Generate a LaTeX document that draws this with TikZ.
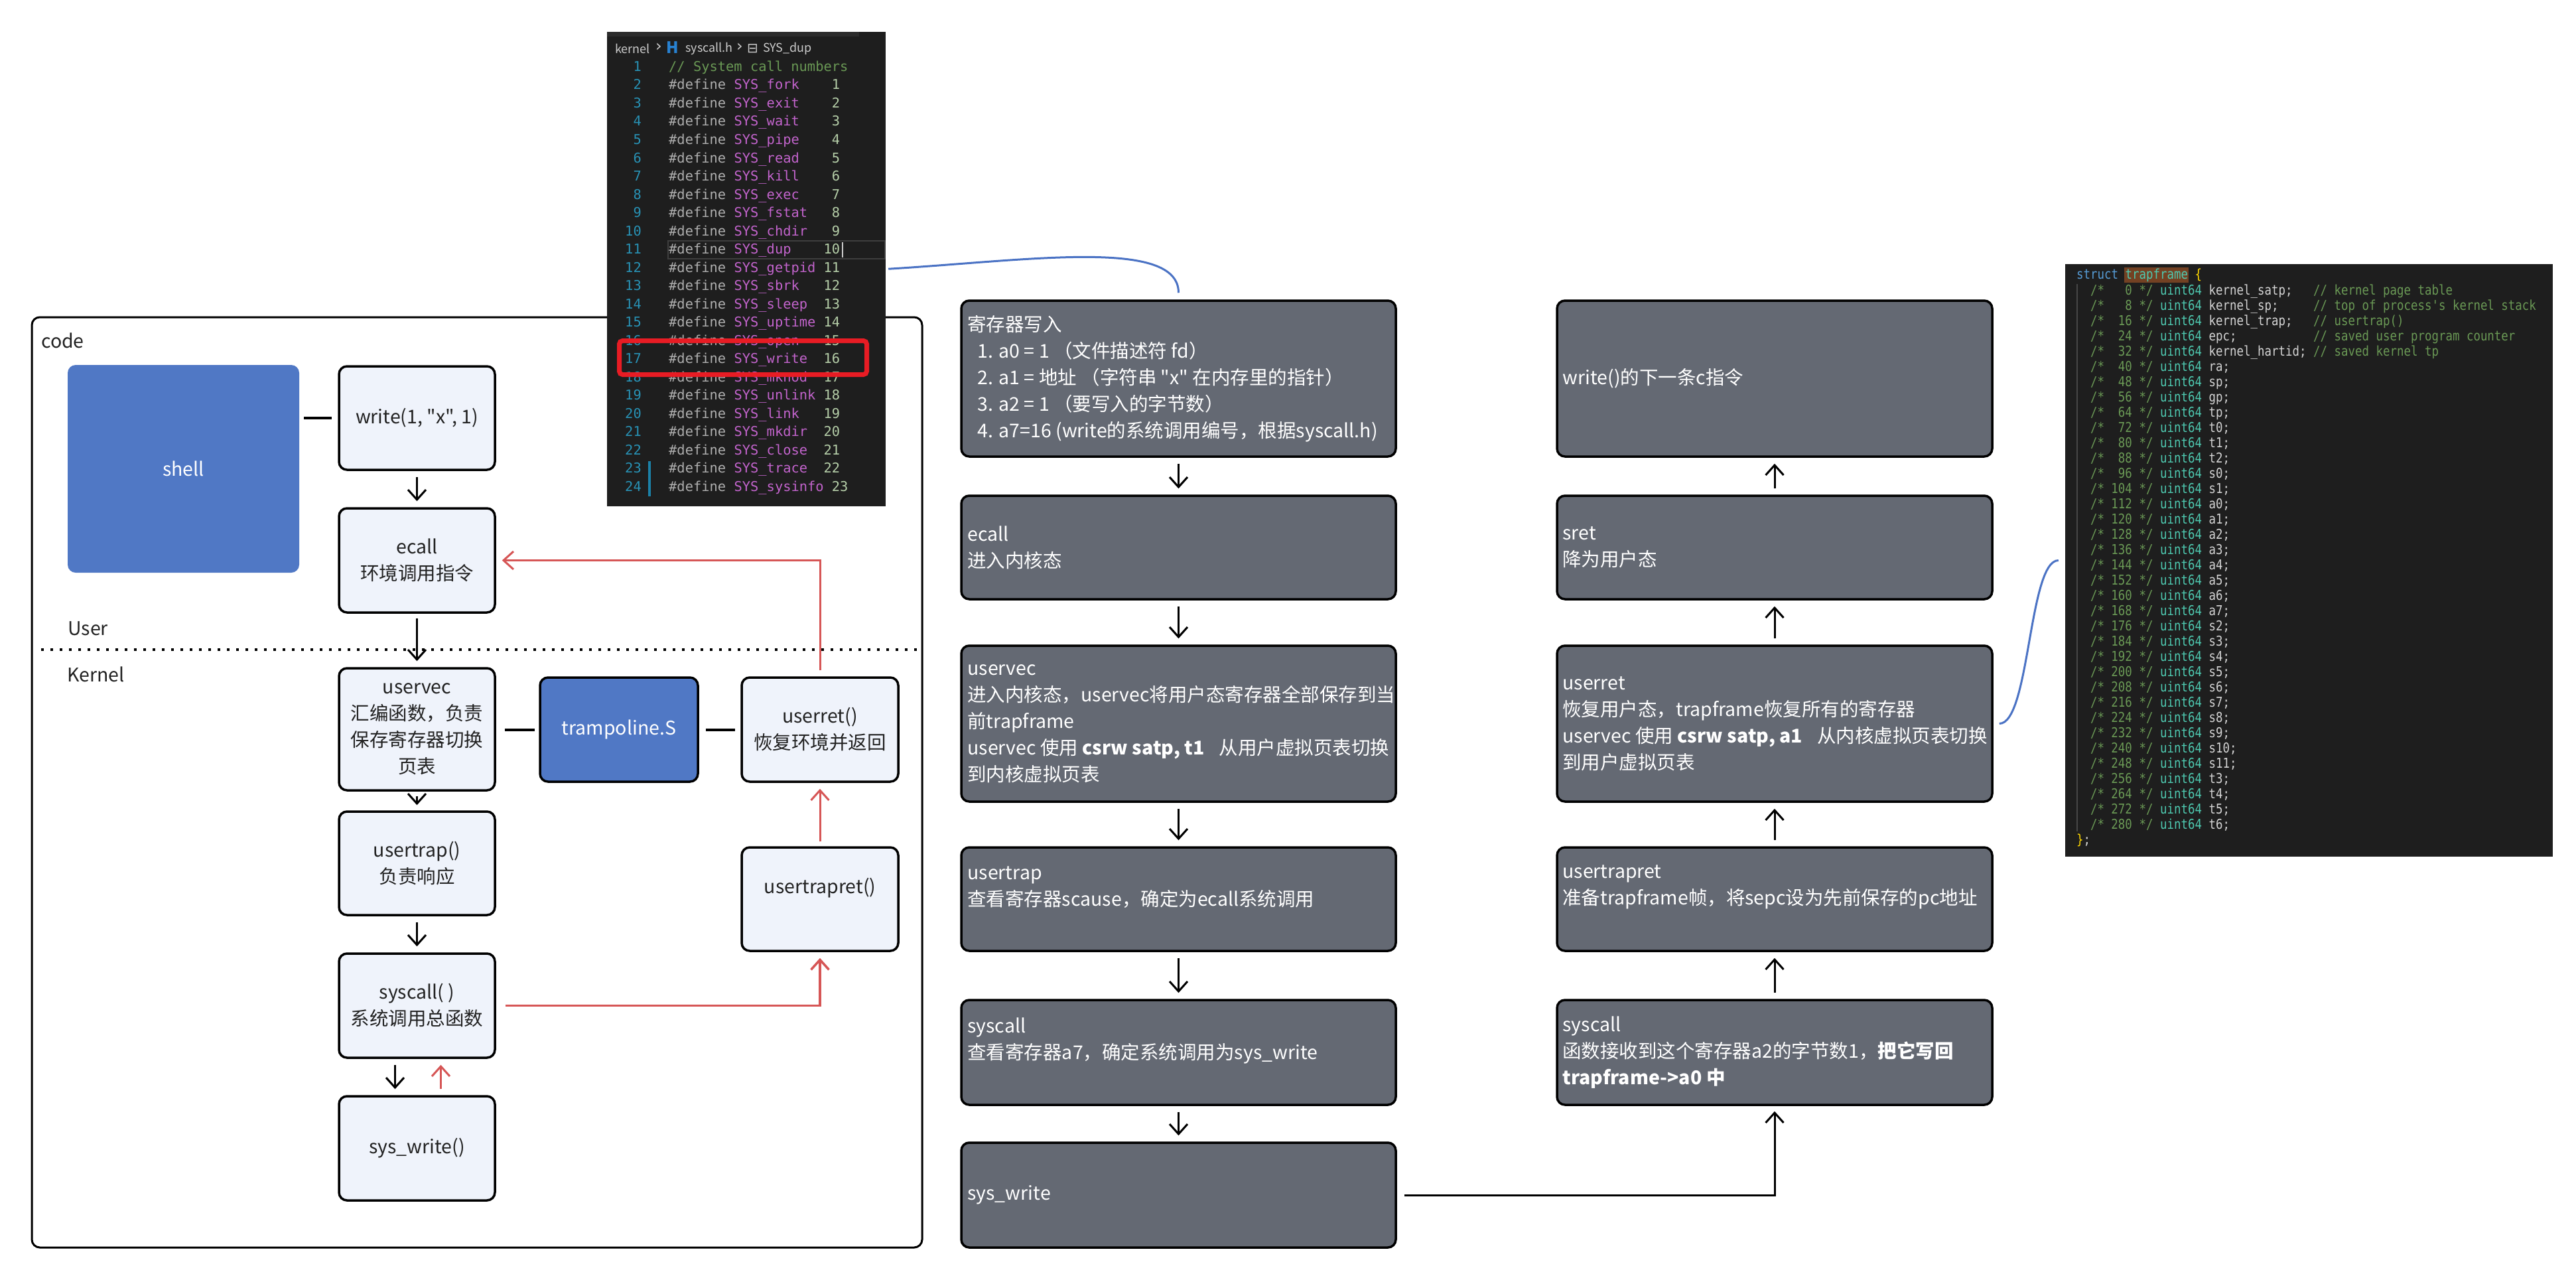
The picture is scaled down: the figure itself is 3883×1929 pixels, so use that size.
\documentclass[tikz,border=0pt]{standalone}
\usepackage{fontspec}
\setmainfont{Noto Sans CJK SC}[Ligatures=TeXOff]
\newfontfamily\codefont[Ligatures=TeXOff]{DejaVu Sans Mono}
\newfontfamily\tfcodefont[Ligatures=TeXOff,FakeStretch=0.85]{DejaVu Sans Mono}
\newfontfamily\symfont{DejaVu Sans}
\usetikzlibrary{arrows.meta}

\definecolor{darkbox}{RGB}{100,105,115}
\definecolor{lightbox}{RGB}{239,243,251}
\definecolor{bluebox}{RGB}{80,120,197}
\definecolor{redline}{RGB}{214,86,86}
\definecolor{linkblue}{RGB}{74,114,196}
\definecolor{txtdark}{RGB}{34,34,34}
\definecolor{codebg}{RGB}{30,30,30}
\definecolor{tabbar}{RGB}{44,44,44}
\definecolor{lnum}{RGB}{40,145,180}
\definecolor{ccomment}{RGB}{106,153,85}
\definecolor{cdefine}{RGB}{175,175,175}
\definecolor{cmacro}{RGB}{195,100,205}
\definecolor{cnum}{RGB}{181,206,168}
\definecolor{ctype}{RGB}{78,201,176}
\definecolor{ckw}{RGB}{86,156,214}
\definecolor{cplain}{RGB}{212,212,212}
\definecolor{cbrace}{RGB}{255,215,0}
\definecolor{hlbrown}{RGB}{115,65,35}
\definecolor{redbox}{RGB}{232,28,36}
\definecolor{crumb}{RGB}{204,204,204}
\definecolor{hfile}{RGB}{40,130,210}
\definecolor{gitbar}{RGB}{27,129,168}

\tikzset{
  boxfont/.style={font=\fontsize{28.5}{40}\selectfont},
  lbox/.style={draw=black, line width=3.5pt, fill=lightbox, rounded corners=12pt,
    inner sep=0pt, text=txtdark, align=center, boxfont},
  bbox/.style={draw=black, line width=3.5pt, fill=bluebox, rounded corners=12pt,
    inner sep=0pt, text=white, align=center, boxfont},
  dbox/.style={draw=black, line width=3.5pt, fill=darkbox, rounded corners=12pt, inner sep=0pt},
  dtext/.style={text=white, align=left, anchor=west, inner sep=0pt, boxfont},
  lbl/.style={text=txtdark, anchor=west, inner sep=0pt, boxfont},
  arr/.style={line width=3pt, -{Straight Barb[length=15pt,width=27pt]},
    shorten <=9pt, shorten >=9pt},
  rarr/.style={arr, draw=redline},
  link/.style={line width=4pt, draw=black},
  ctok/.style={inner sep=0pt, anchor=west, text height=15pt, text depth=0pt,
    font=\codefont\fontsize{20.4}{24}\selectfont},
  ttok/.style={inner sep=0pt, anchor=west, text height=15pt, text depth=0pt,
    font=\tfcodefont\fontsize{20.5}{24}\selectfont},
  crumbtxt/.style={inner sep=0pt, anchor=west, text=crumb, font=\fontsize{18}{22}\selectfont},
  curve/.style={draw=linkblue, line width=3pt}
}

\begin{document}
\begin{tikzpicture}[x=1pt,y=-1pt]
\useasboundingbox (0,0) rectangle (3883,1929);
\fill[white] (0,0) rectangle (3883,1929);

% ================= left panel =================
\draw[line width=3pt, rounded corners=12pt] (48,478) rectangle (1390,1880);
\node[lbl] (codelbl) at (62,513) {code};
\node[lbl] (userlbl) at (102,947) {User};
\node[lbl] (kernlbl) at (101,1016) {Kernel};
\draw[line width=4pt, dash pattern=on 4pt off 10pt] (62,979) -- (1390,979);

\node[fill=bluebox, rounded corners=12pt, minimum width=349pt, minimum height=313pt,
  text=white, boxfont] (shell) at (276.5,706.5) {shell};
\node[lbox, minimum width=235pt, minimum height=156pt] (write) at (628.5,630) {write(1, "x", 1)};
\node[lbox, minimum width=235pt, minimum height=157pt] (ecall) at (628.5,844.5) {ecall\\环境调用指令};
\node[lbox, minimum width=235pt, minimum height=184pt] (uservec) at (628.5,1099) {uservec\\汇编函数，负责\\保存寄存器切换\\页表};
\node[bbox, minimum width=238pt, minimum height=157pt] (tramp) at (933,1099.5) {trampoline.S};
\node[lbox, minimum width=236pt, minimum height=157pt] (userret) at (1236,1099.5) {userret()\\恢复环境并返回};
\node[lbox, minimum width=235pt, minimum height=156pt] (usertrap) at (628.5,1301) {usertrap()\\负责响应};
\node[lbox, minimum width=236pt, minimum height=156pt] (usertrapret) at (1236,1355) {usertrapret()\\\mbox{}};
\node[lbox, minimum width=235pt, minimum height=157pt] (syscallL) at (628.5,1515.5) {syscall( )\\系统调用总函数};
\node[lbox, minimum width=235pt, minimum height=157pt] (syswriteL) at (628.5,1730.5) {sys\_write()};

\draw[link, shorten <=7pt, shorten >=9pt] (shell.east |- write.west) -- (write.west);
\draw[link, shorten <=13pt, shorten >=6pt] (uservec.east |- tramp.west) -- (tramp.west);
\draw[link, shorten <=10pt, shorten >=8pt] (tramp.east) -- (userret.west);

\draw[arr] (write) -- (ecall);
\draw[arr, shorten <=7pt] (ecall) -- (uservec);
\draw[arr, shorten <=7pt, shorten >=8pt] (uservec) -- (usertrap);
\draw[arr] (usertrap) -- (syscallL);
\draw[arr] ([xshift=-33pt]syscallL.south) -- ([xshift=-33pt]syswriteL.north);
\draw[rarr] ([xshift=36pt]syswriteL.north) -- ([xshift=36pt]syscallL.south);
\draw[rarr, line width=3.5pt, shorten <=14pt] (syscallL.east) -- (syscallL.east -| usertrapret.south) -- (usertrapret.south);
\draw[rarr, shorten <=7pt] (usertrapret) -- (userret);
\draw[rarr] (userret.north) -- (userret.north |- ecall.east) -- (ecall.east);

% ================= syscall.h screenshot =================
\node[fill=codebg, minimum width=420pt, minimum height=715pt, inner sep=0pt] (codebox) at (1125,405.5) {};
\fill[tabbar] (915,48) rectangle (1295,55);
\node[crumbtxt] (bc1) at (927,73) {kernel};
\node[crumbtxt, font=\symfont\fontsize{24}{26}\selectfont] (bc2) at (988,71) {›};
\node[crumbtxt, text=hfile, font=\bfseries\fontsize{24}{26}\selectfont] (bc3) at (1004,72) {H};
\node[crumbtxt] (bc4) at (1033,73) {syscall.h};
\node[crumbtxt, font=\symfont\fontsize{24}{26}\selectfont] (bc5) at (1110,71) {›};
\node[crumbtxt, font=\symfont\fontsize{20}{22}\selectfont] (bc6) at (1126,73) {⊟};
\node[crumbtxt] (bc7) at (1150,73) {SYS\_dup};

\draw[line width=1.5pt, draw={rgb,255:red,62;green,62;blue,62}] (1007,363) rectangle (1334,390);
\fill[gitbar] (977,695) rectangle (981,748);

\foreach \kk in {1,...,24}{
  \node[ctok, anchor=east, text=lnum] (ln\kk) at (967,{100+(\kk-1)*27.5}) {\kk};
}
\node[ctok, text=ccomment] (cm1) at (1008,100) {// System call numbers};
\foreach \kk/\nm/\vv in {2/fork/1,3/exit/2,4/wait/3,5/pipe/4,6/read/5,7/kill/6,8/exec/7,
  9/fstat/8,10/chdir/9,11/dup/10,12/getpid/11,13/sbrk/12,14/sleep/13,15/uptime/14,
  16/open/15,17/write/16,18/mknod/17,19/unlink/18,20/link/19,21/mkdir/20,22/close/21,
  23/trace/22}{
  \node[ctok, text=cdefine] (df\kk) at (1008,{100+(\kk-1)*27.5}) {\#define};
  \node[ctok, text=cmacro] (sy\kk) at (1106.4,{100+(\kk-1)*27.5}) {SYS\_\nm};
  \node[ctok, anchor=east, text=cnum] (nv\kk) at (1266.3,{100+(\kk-1)*27.5}) {\vv};
}
\node[ctok, text=cdefine] (df24) at (1008,732.5) {\#define};
\node[ctok, text=cmacro] (sy24) at (1106.4,732.5) {SYS\_sysinfo};
\node[ctok, anchor=east, text=cnum] (nv24) at (1278.6,732.5) {23};
\draw[line width=2pt, draw={rgb,255:red,200;green,200;blue,200}] (1270,365) -- (1270,388);
\draw[redbox, line width=7pt, rounded corners=5pt] (933.5,513.5) rectangle (1306.5,564.5);

% ================= middle column =================
\node[dbox, minimum width=655pt, minimum height=235pt] (b1) at (1776.5,570.5) {};
\node[dbox, minimum width=655pt, minimum height=156pt] (b2) at (1776.5,825) {};
\node[dbox, minimum width=655pt, minimum height=235pt] (b3) at (1776.5,1090.5) {};
\node[dbox, minimum width=655pt, minimum height=156pt] (b4) at (1776.5,1355) {};
\node[dbox, minimum width=655pt, minimum height=158pt] (b5) at (1776.5,1586) {};
\node[dbox, minimum width=655pt, minimum height=158pt] (b6) at (1776.5,1801) {};

\node[dtext] (b1t) at ([xshift=11pt]b1.west) {寄存器写入\\
\hspace*{15pt}1. a0 = 1 （文件描述符 fd）\\
\hspace*{15pt}2. a1 = 地址 （字符串 "x" 在内存里的指针）\\
\hspace*{15pt}3. a2 = 1 （要写入的字节数）\\
\hspace*{15pt}4. a7=16 (write的系统调用编号，根据syscall.h)};
\node[dtext] (b2t) at ([xshift=11pt]b2.west) {ecall\\进入内核态};
\node[dtext] (b3t) at ([xshift=11pt]b3.west) {uservec\\
进入内核态，uservec将用户态寄存器全部保存到当\\
前trapframe\\
uservec 使用 {\bfseries csrw satp, t1}\hspace{22pt}从用户虚拟页表切换\\
到内核虚拟页表};
\node[dtext] (b4t) at ([xshift=11pt,yshift=18pt]b4.west) {usertrap\\查看寄存器scause，确定为ecall系统调用};
\node[dtext] (b5t) at ([xshift=11pt,yshift=18pt]b5.west) {syscall\\查看寄存器a7，确定系统调用为sys\_write};
\node[dtext] (b6t) at ([xshift=11pt]b6.west) {sys\_write};

\draw[arr] (b1) -- (b2);
\draw[arr] (b2) -- (b3);
\draw[arr] (b3) -- (b4);
\draw[arr] (b4) -- (b5);
\draw[arr] (b5) -- (b6);

% ================= right column =================
\node[dbox, minimum width=656pt, minimum height=235pt] (r1) at (2675,570.5) {};
\node[dbox, minimum width=656pt, minimum height=156pt] (r2) at (2675,825) {};
\node[dbox, minimum width=656pt, minimum height=235pt] (r3) at (2675,1090.5) {};
\node[dbox, minimum width=656pt, minimum height=156pt] (r4) at (2675,1355) {};
\node[dbox, minimum width=656pt, minimum height=158pt] (r5) at (2675,1586) {};

\node[dtext] (r1t) at ([xshift=10pt]r1.west) {write()的下一条c指令};
\node[dtext] (r2t) at ([xshift=10pt]r2.west) {sret\\降为用户态};
\node[dtext] (r3t) at ([xshift=10pt]r3.west) {userret\\
恢复用户态，trapframe恢复所有的寄存器\\
uservec 使用 {\bfseries csrw satp, a1}\hspace{22pt}从内核虚拟页表切换\\
到用户虚拟页表};
\node[dtext] (r4t) at ([xshift=10pt,yshift=18pt]r4.west) {usertrapret\\准备trapframe帧，将sepc设为先前保存的pc地址};
\node[dtext] (r5t) at ([xshift=10pt]r5.west) {syscall\\
函数接收到这个寄存器a2的字节数1，{\bfseries 把它写回}\\
{\bfseries trapframe->a0 中}};

\draw[arr] (r2) -- (r1);
\draw[arr] (r3) -- (r2);
\draw[arr] (r4) -- (r3);
\draw[arr] (r5) -- (r4);
\draw[arr, shorten <=11pt, shorten >=8pt] (b6.east) -- (b6.east -| r5.south) -- (r5.south);

% ================= trapframe screenshot =================
\node[fill=codebg, minimum width=735pt, minimum height=893pt, inner sep=0pt] (tf) at (3480.5,844.5) {};
\draw[line width=1.5pt, draw={rgb,255:red,70;green,70;blue,70}] (3131,428) -- (3131,1253);
\fill[hlbrown] (3202,403) rectangle (3299,426);
\node[ttok, text=ckw] (tfs) at (3130,413) {struct};
\node[ttok, text=ctype] (tfn) at (3203.5,413) {trapframe};
\node[ttok, text=cbrace] (tfb) at (3308.5,413) {\{};
\foreach \kk/\off/\nm in {0/0/kernel\_satp,1/8/kernel\_sp,2/16/kernel\_trap,3/24/epc,
  4/32/kernel\_hartid,5/40/ra,6/48/sp,7/56/gp,8/64/tp,9/72/t0,10/80/t1,11/88/t2,
  12/96/s0,13/104/s1,14/112/a0,15/120/a1,16/128/a2,17/136/a3,18/144/a4,19/152/a5,
  20/160/a6,21/168/a7,22/176/s2,23/184/s3,24/192/s4,25/200/s5,26/208/s6,27/216/s7,
  28/224/s8,29/232/s9,30/240/s10,31/248/s11,32/256/t3,33/264/t4,34/272/t5,35/280/t6}{
  \node[ttok, text=ccomment] (tfa\kk) at (3151,{437+\kk*23}) {/*};
  \node[ttok, text=ccomment, anchor=east] (tfo\kk) at (3214,{437+\kk*23}) {\off};
  \node[ttok, text=ccomment] (tfc\kk) at (3224.5,{437+\kk*23}) {*/};
  \node[ttok, text=ctype] (tft\kk) at (3256,{437+\kk*23}) {uint64};
  \node[ttok, text=cplain] (tfm\kk) at (3329.5,{437+\kk*23}) {\nm;};
}
\node[ttok, text=ccomment] (tfr0) at (3487,437) {// kernel page table};
\node[ttok, text=ccomment] (tfr1) at (3487,460) {// top of process's kernel stack};
\node[ttok, text=ccomment] (tfr2) at (3487,483) {// usertrap()};
\node[ttok, text=ccomment] (tfr3) at (3487,506) {// saved user program counter};
\node[ttok, text=ccomment] (tfr4) at (3487,529) {// saved kernel tp};
\node[ttok, text=cbrace] (tfe) at (3130,1265) {\}};
\node[ttok, text=cplain] (tfe2) at (3140.5,1265) {;};

% ================= blue curves =================
\draw[curve, shorten <=4pt, shorten >=10pt] (codebox.east) .. controls +(215,-13) and +(0,-93) .. (b1.north);
\draw[curve, shorten <=9pt, shorten >=10pt] (r3.east) .. controls +(55,0) and +(-55,0) .. (tf.west);

\end{tikzpicture}
\end{document}
